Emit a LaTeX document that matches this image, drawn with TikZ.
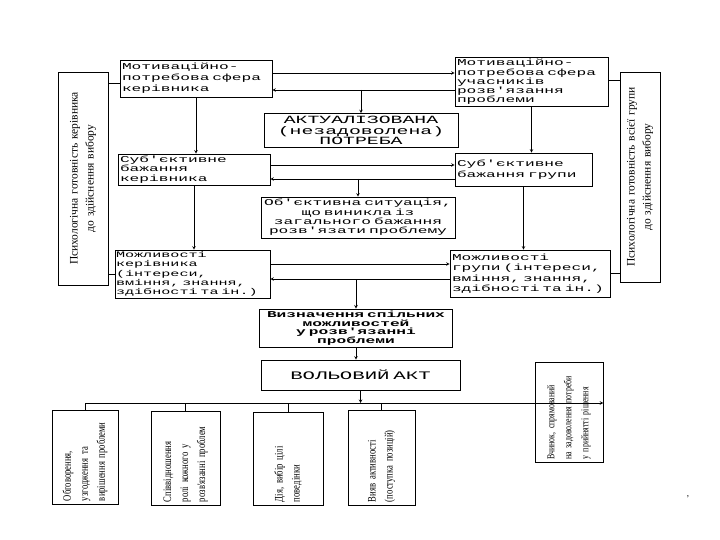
\documentclass[tikz,border=0pt]{standalone}
\usepackage{fontspec}
\setmainfont{Liberation Serif}
\newfontfamily\boxfont{Liberation Mono}[FakeStretch=1.8]
\newfontfamily\sidefont{Liberation Serif}[FakeStretch=0.75]
\usetikzlibrary{positioning, arrows}

\begin{document}
\begin{tikzpicture}[x=1pt, y=-1pt, >=stealth, line width=0.6pt]
    \tikzstyle{blok}=[draw, inner sep=2pt, font={\boxfont\fontsize{9pt}{9.3pt}\selectfont}]
    \tikzstyle{vblok}=[draw, rotate=90, inner sep=3pt, align=left, font={\sidefont\fontsize{11.5pt}{17pt}\selectfont}]
    \tikzstyle{sideblok}=[draw, rotate=90, inner sep=3pt, align=center, font={\fontsize{11.5pt}{16pt}\selectfont}]

    \useasboundingbox (0,0) rectangle (720,540);

    % upper part
    \node[blok, minimum width=152, minimum height=37, text width=148, align=left,
        font={\boxfont\fontsize{9pt}{11pt}\selectfont}] (A) at (196,78.5)
        {Мотиваційно-\\потребова сфера\\керівника};
    \node[blok, minimum width=153, minimum height=48, text width=149, align=left] (B) at (531.5,82)
        {Мотиваційно-\\потребова сфера\\учасників\\розв'язання\\проблеми};
    \node[blok, minimum width=194, minimum height=34, text width=190, align=center,
        font={\boxfont\fontsize{11pt}{10.5pt}\selectfont}] (C) at (361,130.5)
        {АКТУАЛІЗОВАНА\\(незадоволена)\\ПОТРЕБА};
    \node[blok, minimum width=152, minimum height=31, text width=148, align=left] (D) at (194,169.5)
        {Суб'єктивне\\бажання\\керівника};
    \node[blok, minimum width=137, minimum height=33, text width=133, align=left,
        font={\boxfont\fontsize{9pt}{11pt}\selectfont}] (E) at (523.5,169.5)
        {Суб'єктивне\\бажання групи};
    \node[blok, minimum width=194, minimum height=41, text width=190, align=center] (F) at (358,217.5)
        {Об'єктивна ситуація,\\що виникла із\\загального бажання\\розв'язати проблему};
    \node[blok, minimum width=155, minimum height=48, text width=153, align=left,
        inner sep=1pt, font={\boxfont\fontsize{8.4pt}{9.3pt}\selectfont}] (G) at (192.5,274)
        {Можливості\\керівника\\(інтереси,\\вміння, знання,\\здібності та ін.)};
    \node[blok, minimum width=160, minimum height=47, text width=156, align=left,
        font={\boxfont\fontsize{9pt}{10.5pt}\selectfont}] (H) at (530,273.5)
        {Можливості\\групи (інтереси,\\вміння, знання,\\здібності та ін.)};
    \node[blok, minimum width=193, minimum height=36, text width=189, align=center,
        font={\boxfont\bfseries\fontsize{9pt}{8.6pt}\selectfont}] (I) at (356,328)
        {Визначення спільних\\можливостей\\у розв'язанні\\проблеми};
    \node[blok, minimum width=199, minimum height=30, text width=195, align=center,
        font={\boxfont\fontsize{11.5pt}{12pt}\selectfont}] (J) at (360.5,375)
        {ВОЛЬОВИЙ АКТ};

    % side boxes
    \node[sideblok, minimum width=213, minimum height=50, text width=205] (L) at (83,178.5)
        {Психологічна готовність керівника\\до здійснення вибору};
    \node[sideblok, minimum width=210, minimum height=40, text width=202] (R) at (640,177)
        {Психологічна готовність всієї групи\\до здійснення вибору};

    % lower boxes
    \node[vblok, minimum width=94, minimum height=66, text width=88] (P1) at (85,457)
        {Обговорення,\\узгодження та\\вирішення проблеми};
    \node[vblok, minimum width=94, minimum height=69, text width=88] (P2) at (185.5,458)
        {Співвідношення\\ролі кожного у\\розв'язанні проблем};
    \node[vblok, minimum width=93, minimum height=70, text width=87] (P3) at (288,458.5)
        {Дія, вибір цілі\\поведінки};
    \node[vblok, minimum width=95, minimum height=67, text width=89] (P4) at (381.5,457.5)
        {Вияв активності\\(поступка позицій)};
    \node[vblok, minimum width=100, minimum height=68, text width=94,
        font={\sidefont\fontsize{10.5pt}{17pt}\selectfont}] (P5) at (569,412.5)
        {Вчинок, спрямований\\на задоволення потреби\\у прийнятті рішення};

    \node[font=\small] (komma) at (688,497) {,};

    % named points on the lines
    \coordinate (ab) at ([yshift=-8pt]B.west);
    \coordinate (ed) at ([yshift=-9.5pt]E.west);
    \coordinate (hg) at ([yshift=-5.5pt]H.west);
    \coordinate (bus) at ([yshift=9.5pt]P5.south);

    \path[->]
    ([yshift=5.5pt]A.east) edge ([yshift=5.5pt]A.east -| B.west)
    (ab) edge (ab -| A.east)
    (C.north |- ab) edge (C.north)
    (A.south) edge (A.south |- D.north)
    (B.south) edge (B.south |- E.north)
    ([yshift=4.5pt]D.east) edge ([yshift=4.5pt]D.east -| E.west)
    (ed) edge (ed -| D.east)
    (F.north |- ed) edge (F.north)
    (D.south) edge (D.south |- G.north)
    (E.south) edge (E.south |- H.north)
    ([yshift=10pt]G.east) edge ([yshift=10pt]G.east -| H.west)
    (hg) edge (hg -| G.east)
    (I.north |- hg) edge (I.north)
    (I.south) edge (I.south |- J.north)
    (J.south) edge (J.south |- bus)
    (P1.east |- bus) edge (bus);

    \draw (P1.east |- bus) -- (P1.east);
    \draw (P2.east |- bus) -- (P2.east);
    \draw (P3.east |- bus) -- (P3.east);
    \draw (P4.east |- bus) -- (P4.east);

    \draw ([yshift=-4.5pt]A.west) -- ([yshift=-4.5pt]A.west -| L.south);
    \draw (G.west) -- (G.west -| L.south);
    \draw ([yshift=2pt]B.east) -- ([yshift=2pt]B.east -| R.north);
    \draw (H.east) -- (H.east -| R.north);
\end{tikzpicture}
\end{document}
